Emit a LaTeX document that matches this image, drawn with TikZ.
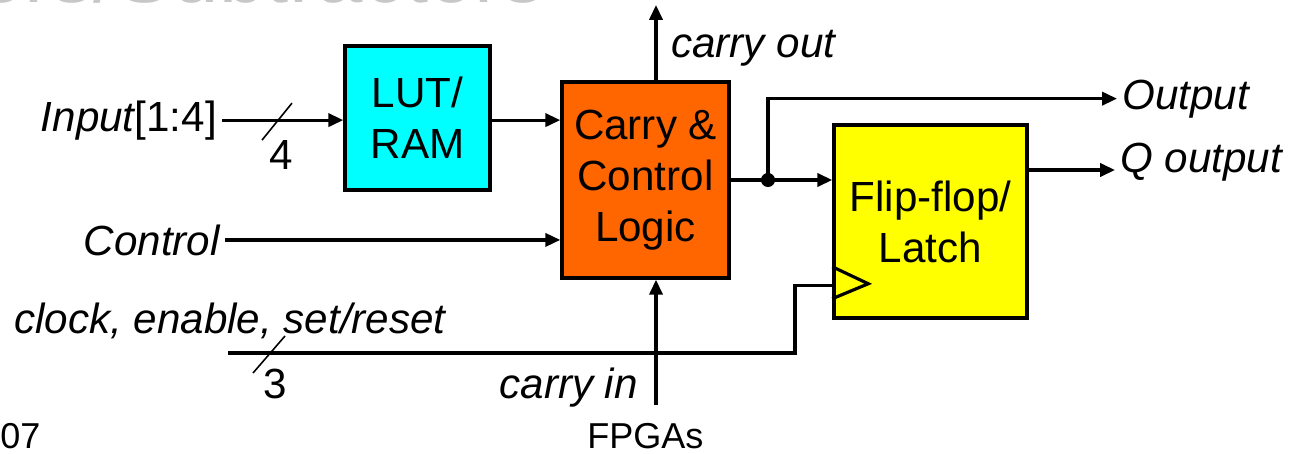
\documentclass[tikz,border=0pt]{standalone}
\usepackage{fontspec}
\setmainfont{Liberation Sans}
\usepackage{xcolor}
\usetikzlibrary{arrows.meta,positioning,calc}
\definecolor{lutcyan}{RGB}{0,255,255}
\definecolor{carryorange}{RGB}{255,102,0}
\definecolor{fflyellow}{RGB}{255,255,0}

\begin{document}
\begin{tikzpicture}[
  x=0.02cm, y=-0.02cm,
  block/.style={draw, line width=2pt, align=center, inner sep=0pt, font=\fontsize{24}{29}\selectfont},
  lbl/.style={inner sep=0pt, outer sep=3pt, font=\fontsize{24}{29}\selectfont\itshape},
  num/.style={inner sep=0pt, font=\fontsize{24}{29}\selectfont},
  foot/.style={inner sep=0pt, font=\fontsize{20.5}{24}\selectfont},
  wire/.style={line width=1.8pt},
  bus/.style={line width=0.9pt},
  >={Triangle[length=8.5pt,width=7.5pt]}
]
\useasboundingbox (0,0) rectangle (1291,453);

\node [anchor=base east, inner sep=0pt, text=black!22, font=\fontsize{47.6}{50}\selectfont] (title) at (545,3) {Adders/Subtractors};

\node [block, fill=lutcyan, minimum width=2.9cm, minimum height=2.88cm] (lut) at (417.5,118) {LUT/\\RAM};
\node [block, fill=carryorange, minimum width=3.34cm, minimum height=3.92cm] (ccl) at (645.5,180) {Carry \&\\Control\\Logic};
\node [block, fill=fflyellow, minimum width=3.86cm, minimum height=3.86cm] (ff) at (930.5,221.5) {Flip-flop/\\Latch};

\node [lbl, anchor=base east] (inlbl) at (222,131) {Input\upshape[1:4]};
\node [lbl, anchor=base east] (ctllbl) at (225,255) {Control};
\node [lbl, anchor=base west] (clklbl) at (9,333) {clock, enable, set/reset};
\node [lbl, anchor=base west] (coutlbl) at (666,57) {carry out};
\node [lbl, anchor=base east] (cinlbl) at (643,398) {carry in};
\node [lbl, anchor=base west] (outlbl) at (1117,109) {Output};
\node [lbl, anchor=base west] (qlbl) at (1115,172) {Q output};
\node [num] (nin) at (281,155) {4};
\node [num] (nclk) at (275,384) {3};
\node [foot, anchor=base west] (page) at (0,448) {07};
\node [foot, anchor=base west] (topic) at (587,448) {FPGAs};

\coordinate (cout) at (656,5);
\coordinate (cin) at (656,405);
\coordinate (tap) at (768,180);
\coordinate (qo) at (1115,170);
\coordinate (clkin) at (228,353);
\coordinate (clk) at ($(ff.south west)+(0,-34)$);

\draw [wire, ->] (inlbl.east) -- (inlbl.east -| lut.west);
\draw [wire, ->] (inlbl.east -| lut.east) -- (inlbl.east -| ccl.west);
\draw [wire, ->] (ctllbl.east) -- (ctllbl.east -| ccl.west);
\draw [wire, ->] (cout |- ccl.north) -- (cout);
\draw [wire, ->] (cin) -- (cin |- ccl.south);
\draw [wire, ->] (ccl.east |- tap) -- (tap -| ff.west);
\draw [wire, ->] (tap) |- (outlbl.west);
\draw [wire, ->] (ff.east |- qo) -- (qo);
\fill (tap) circle [radius=4pt];
\draw [wire] (clkin) -- ++(567,0) |- (clk);
\draw [wire] ($(ff.south west)+(0,-21)$) -- ++(36,-15) -- ++(-36,-17);

\draw [bus] ($(inlbl.east)+(40,20)$) -- ++(30,-37);
\draw [bus] ($(clkin)+(25,20)$) -- ++(32,-37);
\end{tikzpicture}
\end{document}
